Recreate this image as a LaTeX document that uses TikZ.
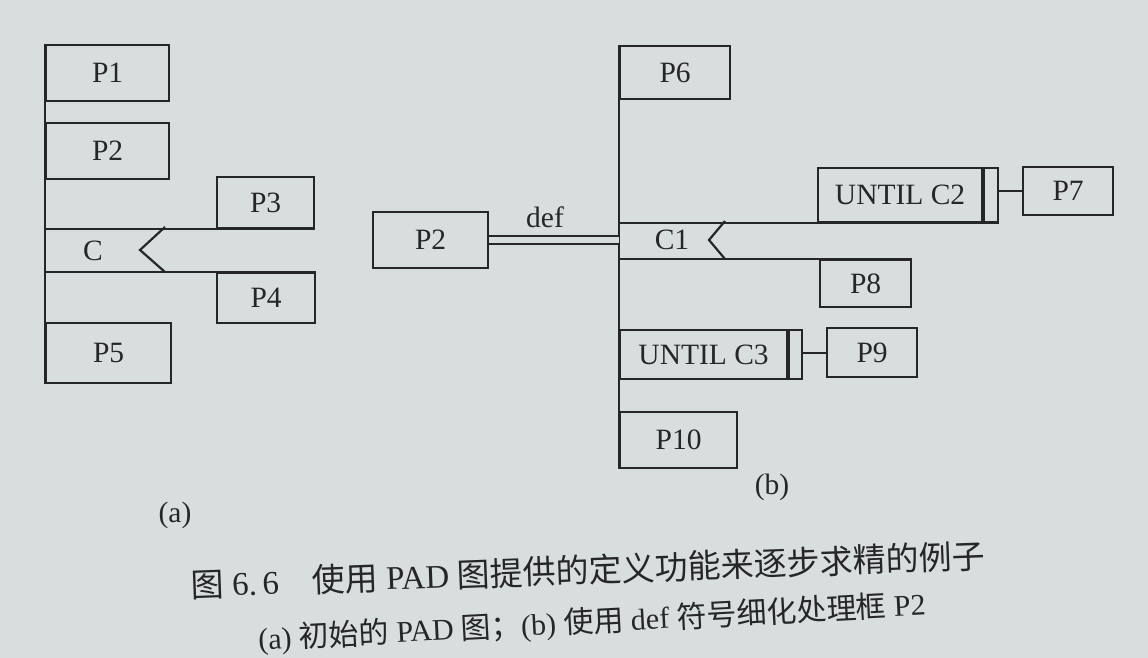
\documentclass[tikz,border=0pt]{standalone}
\usepackage{fontspec}
\setmainfont{Liberation Serif}
\newfontfamily\cjk{Noto Sans CJK SC}
\definecolor{paper}{RGB}{216,222,222}
\definecolor{ink}{RGB}{38,38,40}
\begin{document}
\begin{tikzpicture}[x=1pt,y=-1pt,line width=2.2pt,
  box/.style={draw=ink,anchor=north west,inner sep=0pt,text=ink,
    font=\fontsize{29.5}{31}\selectfont},
  lbl/.style={text=ink,inner sep=0pt,font=\fontsize{29.5}{31}\selectfont},
  captext/.style={text=ink,inner sep=0pt}]
\path[fill=paper,use as bounding box] (0,0) rectangle (1148,658);
\begin{scope}[draw=ink]
% ---------- (a)
\node[box,minimum width=123pt,minimum height=56pt] (p1) at (45,44) {P1};
\node[box,minimum width=123pt,minimum height=56pt] (p2) at (45,122) {P2};
\node[box,minimum width=97pt,minimum height=51pt] (p3) at (216,176) {P3};
\node[box,minimum width=98pt,minimum height=50pt] (p4) at (216,272) {P4};
\node[box,minimum width=125pt,minimum height=60pt] (p5) at (45,322) {P5};
\draw (p1.north west) -- (p5.south west);
\coordinate (ca) at (165,227);
\coordinate (ct) at (140,250);
\coordinate (cb) at (165,272);
\draw (p1.west |- p3.south) -- (p3.south east);
\draw (p1.west |- p4.north) -- (p4.north east);
\draw (ca) -- (ct) -- (cb);
\node[lbl] (c) at (93,251) {C};
\node[lbl] (la) at (175,515) {(a)};
% ---------- (b)
\node[box,minimum width=110pt,minimum height=53pt] (p6) at (619,45) {P6};
\node[box,minimum width=115pt,minimum height=56pt] (q2) at (372,211) {P2};
\node[box,minimum width=164pt,minimum height=54pt] (u2) at (817,167) {UNTIL C2};
\node[box,minimum width=14pt,minimum height=54pt] (u2b) at (u2.north east) {};
\node[box,minimum width=90pt,minimum height=48pt] (p7) at (1022,166) {P7};
\node[box,minimum width=91pt,minimum height=47pt] (p8) at (819,259) {P8};
\node[box,minimum width=167pt,minimum height=49pt] (u3) at (619,329) {UNTIL C3};
\node[box,minimum width=13pt,minimum height=49pt] (u3b) at (u3.north east) {};
\node[box,minimum width=90pt,minimum height=49pt] (p9) at (826,327) {P9};
\node[box,minimum width=117pt,minimum height=56pt] (p10) at (619,411) {P10};
\draw (p6.north west) -- (p10.south west);
\draw[double=paper,double distance=6.5pt,line width=2pt] (q2.east) -- (q2.east -| p6.west);
\node[lbl] (def) at (545,217) {def};
\coordinate (da) at (725,221);
\coordinate (dt) at (709,240);
\coordinate (db) at (725,259);
\draw (p6.west |- u2.south) -- (u2b.south east);
\draw (p6.west |- p8.north) -- (p8.north east);
\draw (da) -- (dt) -- (db);
\node[lbl] (c1) at (672,240) {C1};
\draw (u2b.east |- p7.west) -- (p7.west);
\draw (u3b.east |- p9.west) -- (p9.west);
\node[lbl] (lb) at (772,487) {(b)};
\end{scope}
% ---------- captions
\node[captext,font=\fontsize{33}{36}\selectfont,rotate=2.1] (cap1) at (588,570)
  {{\cjk 图} 6.\,6\hspace{1em}{\cjk 使用} PAD {\cjk 图提供的定义功能来逐步求精的例子}};
\node[captext,font=\fontsize{30}{33}\selectfont,rotate=3] (cap2) at (592,623)
  {(a) {\cjk 初始的} PAD {\cjk 图；}(b) {\cjk 使用} def {\cjk 符号细化处理框} P2};
\end{tikzpicture}
\end{document}
